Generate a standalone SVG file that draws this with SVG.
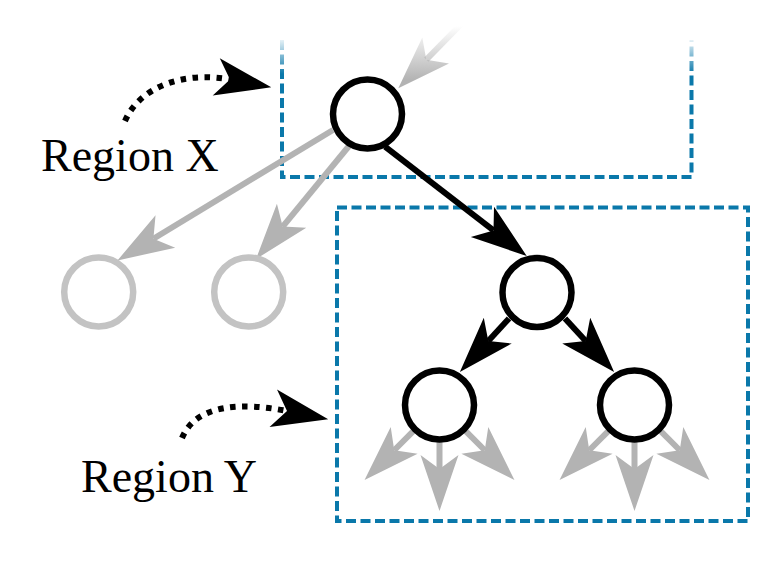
<svg xmlns="http://www.w3.org/2000/svg" width="772" height="564" viewBox="0 0 772 564">
  <style>
    .box { fill: none; stroke: #0a78aa; stroke-width: 4; stroke-dasharray: 10 4.5; }
    .node { fill: #ffffff; stroke: #000000; stroke-width: 6.5; }
    .ghost { fill: #ffffff; stroke: #c3c3c3; stroke-width: 6.5; }
    .edge { fill: none; stroke: #000000; stroke-width: 6; marker-end: url(#ahBlack); }
    .gedge { fill: none; stroke: #b3b3b3; stroke-width: 6; marker-end: url(#ahGray); }
    .dots { fill: none; stroke: #000000; stroke-width: 6; stroke-dasharray: 5.5 6.5; marker-end: url(#ahBlack); }
    .label { font-family: "Liberation Serif", "Times New Roman", serif; font-size: 46px; fill: #000000; }
  </style>
  <defs>
    <marker id="ahBlack" viewBox="-16 -20 60 40" markerWidth="60" markerHeight="40" refX="0" refY="0" orient="auto" markerUnits="userSpaceOnUse">
      <path d="M42,0 L-14,-19 L0,0 L-14,19 Z" fill="#000000"/>
    </marker>
    <marker id="ahGray" viewBox="-16 -20 60 40" markerWidth="60" markerHeight="40" refX="0" refY="0" orient="auto" markerUnits="userSpaceOnUse">
      <path d="M42,0 L-14,-19 L0,0 L-14,19 Z" fill="#b3b3b3"/>
    </marker>
    <linearGradient id="fadeBlue" gradientUnits="userSpaceOnUse" x1="0" y1="38" x2="0" y2="74">
      <stop offset="0" stop-color="#0a78aa" stop-opacity="0.05"/>
      <stop offset="1" stop-color="#0a78aa" stop-opacity="1"/>
    </linearGradient>
    <linearGradient id="fadeGray" gradientUnits="userSpaceOnUse" x1="0" y1="26" x2="0" y2="80">
      <stop offset="0" stop-color="#b3b3b3" stop-opacity="0"/>
      <stop offset="1" stop-color="#b3b3b3" stop-opacity="1"/>
    </linearGradient>
  </defs>

  <!-- regions -->
  <g id="regionX">
    <path class="box" d="M282,40 V177 H691.5 V40" style="stroke:url(#fadeBlue)"/>
  </g>
  <g id="regionY">
    <rect class="box" x="337" y="207.5" width="411" height="313.5"/>
  </g>

  <!-- connectors -->
  <g id="connectors">
    <!-- faded incoming arrow into root -->
    <path d="M472,13 L426.3,59.7" fill="none" stroke="url(#fadeGray)" stroke-width="6"/>
    <path d="M398.3,88.3 L449,63.5 L426.3,59.7 L422.3,37.5 Z" fill="url(#fadeGray)"/>
    <!-- root to ghost children -->
    <path class="gedge" d="M333,130 L153.4,238.7"/>
    <path class="gedge" d="M349,146 L282.7,226.6"/>
    <!-- root to node2 -->
    <path class="edge" d="M385,146.7 L493.5,230.4"/>
    <!-- node2 to node3/node4 -->
    <path class="edge" d="M509,318.5 L488.3,341"/>
    <path class="edge" d="M565,318.5 L585.7,341"/>
    <!-- node3 gray outgoing -->
    <path class="gedge" d="M413.3,431.2 L394.25,450.25"/>
    <path class="gedge" d="M439.5,442 L439.5,469"/>
    <path class="gedge" d="M465.7,431.2 L484.75,450.25"/>
    <!-- node4 gray outgoing -->
    <path class="gedge" d="M608.3,431.2 L589.25,450.25"/>
    <path class="gedge" d="M634.5,442 L634.5,469"/>
    <path class="gedge" d="M660.7,431.2 L679.75,450.25"/>
    <!-- dotted label pointers -->
    <path class="dots" d="M125,121 C140,86 185,71 230,79.5"/>
    <path class="dots" d="M182,438 C196,404 242,402 287,411"/>
  </g>

  <!-- nodes -->
  <g id="root"><circle class="node" cx="367.5" cy="114" r="34.5"/></g>
  <g id="ghostLeft"><circle class="ghost" cx="98.7" cy="292" r="34.5"/></g>
  <g id="ghostRight"><circle class="ghost" cx="248.7" cy="292" r="34.5"/></g>
  <g id="node2"><circle class="node" cx="537" cy="292.5" r="34.5"/></g>
  <g id="node3"><circle class="node" cx="439.5" cy="405" r="34.5"/></g>
  <g id="node4"><circle class="node" cx="634.5" cy="405" r="34.5"/></g>

  <!-- labels -->
  <g id="labelX"><text class="label" x="41" y="170.5">Region X</text></g>
  <g id="labelY"><text class="label" x="81" y="491.5">Region Y</text></g>
</svg>
